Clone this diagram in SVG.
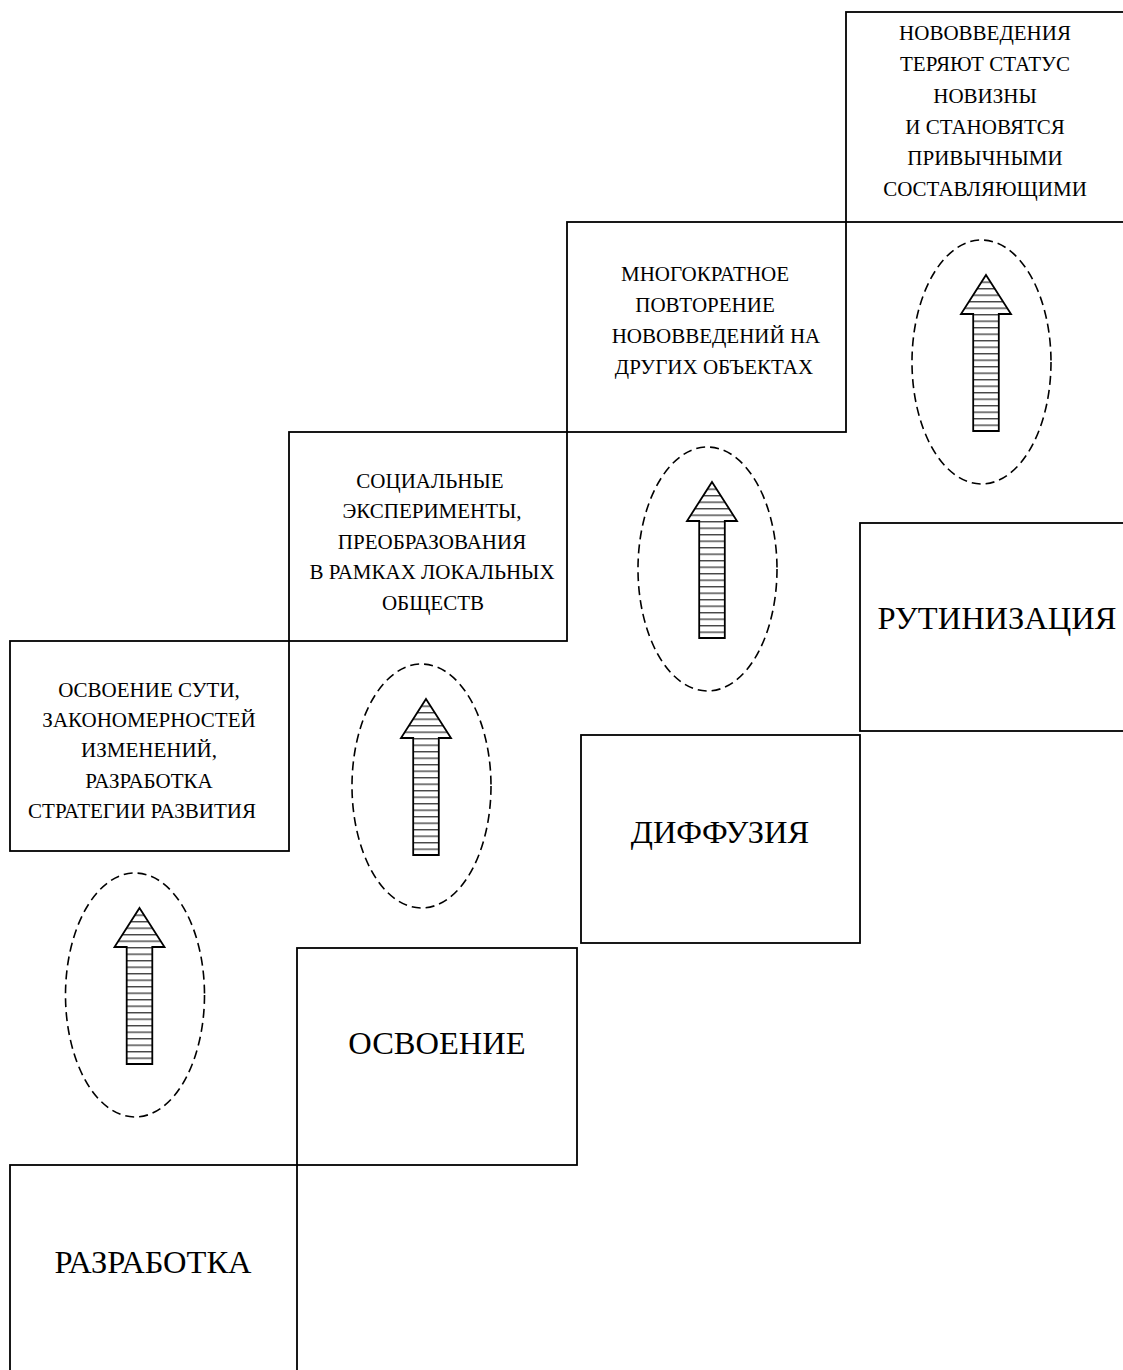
<svg xmlns="http://www.w3.org/2000/svg" xmlns:xlink="http://www.w3.org/1999/xlink" width="1123" height="1370" viewBox="0 0 1123 1370">
<style>
.box{fill:none;stroke:#000;stroke-width:1.8}
.big{font-family:"Liberation Serif","Times New Roman",serif;font-size:32.5px;fill:#000;text-anchor:middle}
.sm{font-family:"Liberation Serif","Times New Roman",serif;font-size:21px;fill:#000;text-anchor:middle}
.oval{fill:none;stroke:#000;stroke-width:1.6;stroke-dasharray:9 5}
.arr{fill:url(#hatch);stroke:#000;stroke-width:1.8;stroke-linejoin:miter}
</style>
<defs>
<pattern id="hatch" patternUnits="userSpaceOnUse" width="10" height="6.5">
<rect width="10" height="6.5" fill="#fff"/>
<rect y="0" width="10" height="1.4" fill="#444"/>
</pattern>
<g id="stepArrow">
<ellipse class="oval" cx="-4.5" cy="87" rx="69.5" ry="122"/>
<path class="arr" d="M0,0 L25,39 L12.8,39 L12.8,156 L-12.8,156 L-12.8,39 L-25,39 Z"/>
</g>
</defs>

<g id="node-razrabotka">
<rect class="box" x="10" y="1165" width="287" height="220"/>
<text class="big" x="153" y="1273">РАЗРАБОТКА</text>
</g>
<g id="node-osvoenie">
<rect class="box" x="297" y="948" width="280" height="217"/>
<text class="big" x="437" y="1054">ОСВОЕНИЕ</text>
</g>
<g id="node-diffuziya">
<rect class="box" x="581" y="735" width="279" height="208"/>
<text class="big" x="720" y="843">ДИФФУЗИЯ</text>
</g>
<g id="node-rutinizaciya">
<rect class="box" x="860" y="523" width="280" height="208"/>
<text class="big" x="997" y="629">РУТИНИЗАЦИЯ</text>
</g>

<g id="node-step1">
<rect class="box" x="10" y="641" width="279" height="210"/>
<text class="sm" x="149" y="697">ОСВОЕНИЕ СУТИ,</text>
<text class="sm" x="149" y="727">ЗАКОНОМЕРНОСТЕЙ</text>
<text class="sm" x="149" y="757">ИЗМЕНЕНИЙ,</text>
<text class="sm" x="149" y="788">РАЗРАБОТКА</text>
<text class="sm" x="142" y="818">СТРАТЕГИИ РАЗВИТИЯ</text>
</g>
<g id="node-step2">
<rect class="box" x="289" y="432" width="278" height="209"/>
<text class="sm" x="430" y="488">СОЦИАЛЬНЫЕ</text>
<text class="sm" x="432" y="518">ЭКСПЕРИМЕНТЫ,</text>
<text class="sm" x="432" y="549">ПРЕОБРАЗОВАНИЯ</text>
<text class="sm" x="432" y="579">В РАМКАХ ЛОКАЛЬНЫХ</text>
<text class="sm" x="433" y="610">ОБЩЕСТВ</text>
</g>
<g id="node-step3">
<rect class="box" x="567" y="222" width="279" height="210"/>
<text class="sm" x="705" y="281">МНОГОКРАТНОЕ</text>
<text class="sm" x="705" y="312">ПОВТОРЕНИЕ</text>
<text class="sm" x="716" y="343">НОВОВВЕДЕНИЙ НА</text>
<text class="sm" x="714" y="374">ДРУГИХ ОБЪЕКТАХ</text>
</g>
<g id="node-step4">
<rect class="box" x="846" y="12" width="290" height="210"/>
<text class="sm" x="985" y="40">НОВОВВЕДЕНИЯ</text>
<text class="sm" x="985" y="71">ТЕРЯЮТ СТАТУС</text>
<text class="sm" x="985" y="103">НОВИЗНЫ</text>
<text class="sm" x="985" y="134">И СТАНОВЯТСЯ</text>
<text class="sm" x="985" y="165">ПРИВЫЧНЫМИ</text>
<text class="sm" x="985" y="196">СОСТАВЛЯЮЩИМИ</text>
</g>

<g id="connectors">
<use xlink:href="#stepArrow" href="#stepArrow" transform="translate(139.5,908)"/>
<use xlink:href="#stepArrow" href="#stepArrow" transform="translate(426,699)"/>
<use xlink:href="#stepArrow" href="#stepArrow" transform="translate(712,482)"/>
<use xlink:href="#stepArrow" href="#stepArrow" transform="translate(986,275)"/>
</g>
</svg>
